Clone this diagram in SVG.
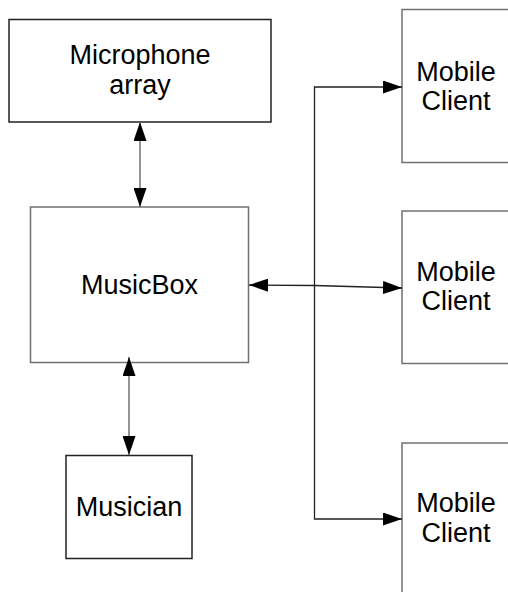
<svg xmlns="http://www.w3.org/2000/svg" width="508" height="592" viewBox="0 0 508 592">
<style>
.box{fill:#fff;stroke:#707070;stroke-width:1.5}
.dark{stroke:#222}
.t{font-family:"Liberation Sans",Arial,sans-serif;font-size:27px;fill:#000;text-anchor:middle}
.c{fill:none;stroke:#707070;stroke-width:1.5}
.k{fill:none;stroke:#222;stroke-width:1.3}
</style>
<defs>
<marker id="ah" markerWidth="19" markerHeight="13" refX="19" refY="6.5" orient="auto" markerUnits="userSpaceOnUse">
<path d="M0,0 L19,6.5 L0,13 Z" fill="#000"/>
</marker>
<marker id="as" markerWidth="19" markerHeight="13" refX="0" refY="6.5" orient="auto" markerUnits="userSpaceOnUse">
<path d="M19,0 L0,6.5 L19,13 Z" fill="#000"/>
</marker>
</defs>
<g id="mic">
<rect class="box dark" x="9" y="19.5" width="262" height="102.5"/>
<text class="t" x="140" y="64">Microphone</text>
<text class="t" x="140" y="94">array</text>
</g>
<g id="musicbox">
<rect class="box" x="30.5" y="207" width="218" height="155.5"/>
<text class="t" x="139.5" y="294">MusicBox</text>
</g>
<g id="musician">
<rect class="box dark" x="66" y="455.5" width="126" height="103"/>
<text class="t" x="129" y="516">Musician</text>
</g>
<g id="client1">
<rect class="box" x="402" y="9.5" width="120" height="153"/>
<text class="t" x="456" y="81">Mobile</text>
<text class="t" x="456" y="110">Client</text>
</g>
<g id="client2">
<rect class="box" x="402" y="211" width="120" height="152.5"/>
<text class="t" x="456" y="281">Mobile</text>
<text class="t" x="456" y="310">Client</text>
</g>
<g id="client3">
<rect class="box" x="402" y="443" width="120" height="160"/>
<text class="t" x="456" y="512">Mobile</text>
<text class="t" x="456" y="542">Client</text>
</g>
<g id="connectors">
<line class="c" x1="140" y1="122" x2="140" y2="207" marker-start="url(#as)" marker-end="url(#ah)"/>
<line class="c" x1="129" y1="357" x2="129" y2="455" marker-start="url(#as)" marker-end="url(#ah)"/>
<polyline class="k" points="402,87 314.5,87 314.5,519 402,519" marker-start="url(#as)" marker-end="url(#ah)"/>
<polyline class="k" points="249,285 314.5,285.5 402,288" marker-start="url(#as)" marker-end="url(#ah)"/>
</g>
</svg>
